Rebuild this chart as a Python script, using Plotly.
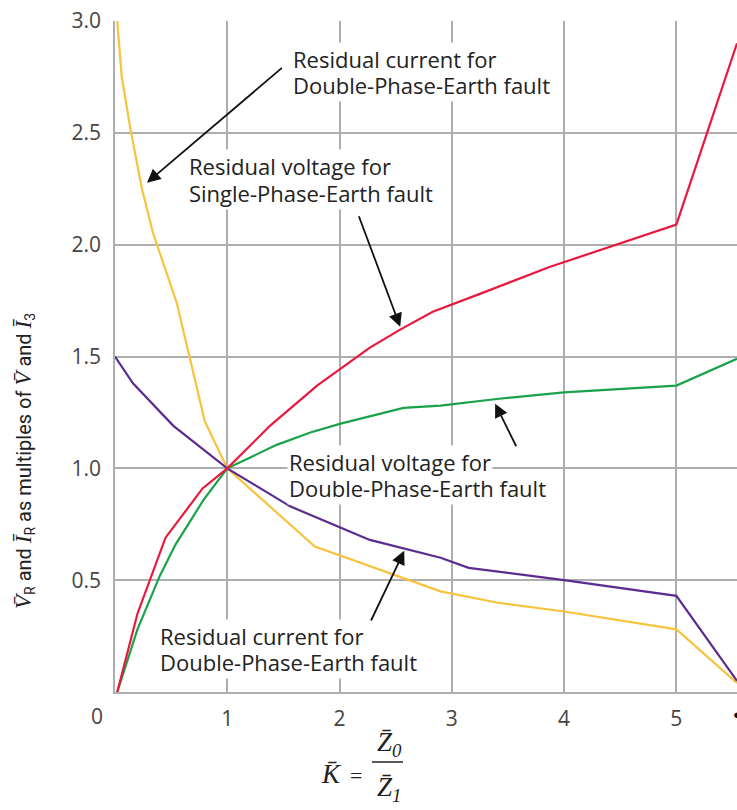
import plotly.graph_objects as go

# K = Z0/Z1 sample points and the residual quantities
k_ic_dpe = [0.02, 0.06, 0.14, 0.24, 0.34, 0.55, 0.80, 1.00, 1.78, 2.90, 3.40, 4.00, 5.00, 5.54]
ic_dpe = [3.00, 2.75, 2.51, 2.25, 2.05, 1.74, 1.21, 1.00, 0.65, 0.45, 0.40, 0.36, 0.28, 0.04]

k_ic_2 = [0.00, 0.16, 0.52, 1.00, 1.56, 2.27, 2.90, 3.15, 4.00, 5.00, 5.54]
ic_2 = [1.50, 1.38, 1.19, 1.00, 0.83, 0.68, 0.60, 0.555, 0.50, 0.43, 0.05]

k_vr_spe = [0.02, 0.20, 0.45, 0.78, 1.00, 1.38, 1.80, 2.27, 2.54, 2.83, 3.25, 3.87, 5.00, 5.54]
vr_spe = [0.00, 0.35, 0.69, 0.91, 1.00, 1.19, 1.37, 1.54, 1.62, 1.70, 1.78, 1.90, 2.09, 2.90]

k_vr_dpe = [0.02, 0.20, 0.40, 0.54, 0.79, 1.00, 1.44, 1.74, 2.01, 2.57, 2.90, 3.40, 4.00, 5.00, 5.54]
vr_dpe = [0.00, 0.28, 0.52, 0.66, 0.86, 1.00, 1.105, 1.16, 1.20, 1.27, 1.28, 1.31, 1.34, 1.37, 1.49]

x_ticks = [1, 2, 3, 4, 5]
y_ticks = [0.5, 1.0, 1.5, 2.0, 2.5, 3.0]
y_tick_text = ["0.5", "1.0", "1.5", "2.0", "2.5", "3.0"]

W, H = 737, 810
ML, MR, MT, MB = 115, 0, 21, 118
PW, PH = W - ML - MR, H - MT - MB


def px(xp):
    """Horizontal page pixel -> paper fraction."""
    return (xp - ML) / PW


def py(yp):
    """Vertical page pixel (from top) -> paper fraction."""
    return (H - MB - yp) / PH


GRID = "#aeaeae"
TEXT = "#222222"
TICK_FONT = dict(family="Open Sans", size=21, color="#444444")
LABEL_FONT = dict(family="Open Sans", size=22, color=TEXT)
SERIF = "Liberation Serif"

fig = go.Figure()
series = [
    (k_ic_dpe, ic_dpe, "#f7c33c"),
    (k_ic_2, ic_2, "#5b2c8f"),
    (k_vr_dpe, vr_dpe, "#19a24a"),
    (k_vr_spe, vr_spe, "#e8193c"),
]
for xs, ys, col in series:
    fig.add_trace(go.Scatter(x=xs, y=ys, mode="lines",
                             line=dict(color=col, width=2.2), showlegend=False))

annotations = []

# Curve captions, one white-backed box per line; lower lines are added first
# so each upper line's descenders stay on top
captions = [
    (1.57, [2.830, 2.713], ["Residual current for", "Double-Phase-Earth fault"]),
    (0.64, [2.350, 2.233], ["Residual voltage for", "Single-Phase-Earth fault"]),
    (1.535, [1.030, 0.910], ["Residual voltage for", "Double-Phase-Earth fault"]),
    (0.385, [0.252, 0.133], ["Residual current for", "Double-Phase-Earth fault"]),
]
for x0, ys, lines in captions:
    for yy, txt in reversed(list(zip(ys, lines))):
        annotations.append(dict(x=x0, y=yy, xref="x", yref="y", text=txt,
                                showarrow=False, xanchor="left", yanchor="middle",
                                font=LABEL_FONT, bgcolor="white", borderpad=1))

# Pointer arrows: (tail x, tail y, tip x, tip y)
arrows = [
    (1.50, 2.796, 0.285, 2.277),
    (2.167, 2.134, 2.540, 1.633),
    (3.580, 1.092, 3.386, 1.289),
    (2.274, 0.313, 2.576, 0.631),
]
for ax, ay, tx, ty in arrows:
    annotations.append(dict(x=tx, y=ty, ax=ax, ay=ay, xref="x", yref="y",
                            axref="x", ayref="y", text="", showarrow=True,
                            arrowhead=2, arrowsize=1.5, arrowwidth=1.8,
                            arrowcolor="#111111", standoff=0, startstandoff=0))


def page_text(xp, yp, text, font, **kw):
    return dict(x=px(xp), y=py(yp), xref="paper", yref="paper", text=text,
                showarrow=False, xanchor="center", yanchor="middle", font=font, **kw)


# Origin label and the infinity marker at the right end of the K axis
annotations.append(page_text(97, 716, "0", TICK_FONT))
annotations.append(page_text(737, 714, "●", dict(size=13, color="#111111")))

# Vertical axis title
it = f"<span style='font-family:{SERIF};font-style:italic;font-size:23px'>"
annotations.append(page_text(
    24, 461,
    f"{it}V̄</span><sub>R</sub> and {it}Ī</span><sub>R</sub> as multiples of "
    f"{it}V̄</span> and {it}Ī</span><sub>3</sub>",
    dict(family="Liberation Sans Narrow, Roboto", size=20, color=TEXT), textangle=-90))

# Horizontal axis title: K = Z0 / Z1 as a stacked fraction
xt_font = dict(family=SERIF, size=27, color=TEXT)
annotations.append(page_text(331, 774, "<i>K̄</i>", xt_font))
annotations.append(page_text(356, 775, "=", dict(family=SERIF, size=22, color=TEXT)))
annotations.append(page_text(389, 744, "<i>Z̄</i><sub><i>0</i></sub>", xt_font))
annotations.append(page_text(389, 789, "<i>Z̄</i><sub><i>1</i></sub>", xt_font))

fig.add_shape(type="line", xref="paper", yref="paper", x0=px(372), x1=px(403),
              y0=py(762), y1=py(762), line=dict(color=TEXT, width=1.5))

fig.update_layout(
    width=W, height=H,
    margin=dict(l=ML, r=MR, t=MT, b=MB),
    paper_bgcolor="white", plot_bgcolor="white",
    annotations=annotations,
    xaxis=dict(range=[0, 5.54], tickvals=x_ticks, ticktext=[str(v) for v in x_ticks],
               showgrid=True, gridcolor=GRID, gridwidth=1.6,
               showline=True, linecolor=GRID, linewidth=1.6,
               zeroline=False, ticks="", tickfont=TICK_FONT, ticklabelstandoff=7),
    yaxis=dict(range=[0, 3.0], tickvals=y_ticks, ticktext=y_tick_text,
               showgrid=True, gridcolor=GRID, gridwidth=1.6,
               showline=True, linecolor=GRID, linewidth=1.6,
               zeroline=False, ticks="", tickfont=TICK_FONT, ticklabelstandoff=8),
)

fig.write_html("out.html")
